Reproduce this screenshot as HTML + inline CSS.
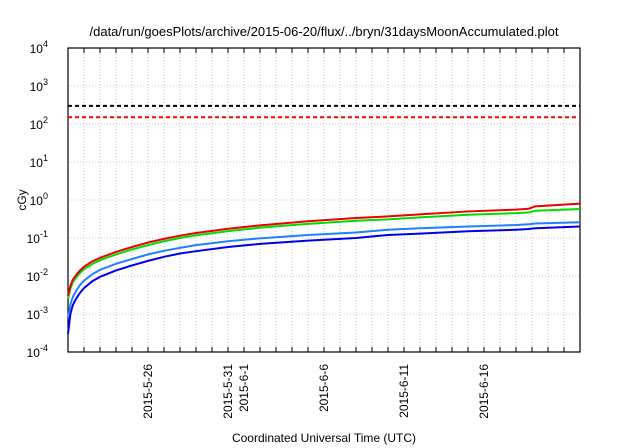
<!DOCTYPE html>
<html><head><meta charset="utf-8"><style>
body{margin:0;background:#fff;}
svg{display:block;font-family:"Liberation Sans",sans-serif;}
</style></head><body>
<svg id="chart" width="640" height="448">
<text x="324" y="36" font-size="13" text-anchor="middle" fill="#000">/data/run/goesPlots/archive/2015-06-20/flux/../bryn/31daysMoonAccumulated.plot</text>
<g id="grid"></g>
<g id="axes"></g>
<g id="series"></g>
<text x="26" y="200" font-size="12" text-anchor="middle" transform="rotate(-90 26 200)">cGy</text>
<text x="324" y="442" font-size="12" text-anchor="middle">Coordinated Universal Time (UTC)</text>
</svg>
<script>
const days=[0,0.15,0.3,0.5,0.75,1,1.5,2,3,4,5,6,7,8,10,12,15,18,20,22,25,28,28.8,29.2,32];
const redVals=[3e-3,5.5e-3,8e-3,1.05e-2,1.4e-2,1.75e-2,2.4e-2,3e-2,4.3e-2,5.8e-2,7.6e-2,9.5e-2,1.15e-1,1.35e-1,1.75e-1,2.15e-1,2.75e-1,3.35e-1,3.7e-1,4.2e-1,5e-1,5.6e-1,5.9e-1,6.8e-1,8e-1];
const greenVals=[2.5e-3,4.6e-3,6.8e-3,9e-3,1.2e-2,1.5e-2,2.05e-2,2.6e-2,3.7e-2,5e-2,6.5e-2,8.2e-2,1e-1,1.17e-1,1.52e-1,1.87e-1,2.35e-1,2.85e-1,3.1e-1,3.5e-1,4.1e-1,4.5e-1,4.7e-1,5.2e-1,5.8e-1];
const lblueVals=[8e-4,1.8e-3,2.8e-3,4e-3,5.8e-3,7.5e-3,1.1e-2,1.45e-2,2.1e-2,2.8e-2,3.7e-2,4.6e-2,5.5e-2,6.5e-2,8.2e-2,9.8e-2,1.2e-1,1.4e-1,1.65e-1,1.8e-1,2e-1,2.2e-1,2.3e-1,2.4e-1,2.6e-1];
const blueVals=[3e-4,1e-3,1.7e-3,2.5e-3,3.6e-3,4.8e-3,7.2e-3,9.5e-3,1.4e-2,1.9e-2,2.5e-2,3.2e-2,3.9e-2,4.5e-2,5.8e-2,7e-2,8.5e-2,1e-1,1.2e-1,1.3e-1,1.5e-1,1.65e-1,1.72e-1,1.8e-1,2e-1];
const refLines=[300,150];
const yTicks=[-4,-3,-2,-1,0,1,2,3,4];
const xTickDays=[5,10,11,16,21,26];
const xTickLabels=["2015-5-26","2015-5-31","2015-6-1","2015-6-6","2015-6-11","2015-6-16"];
const L=68,R=580,T=48,B=352,DAYS=32;
const X=d=>L+(R-L)*d/DAYS;
const Y=v=>B-(Math.log10(v)+4)*(B-T)/8;
const NS="http://www.w3.org/2000/svg";
function mk(p,t,a){const e=document.createElementNS(NS,t);for(const k in a)e.setAttribute(k,a[k]);p.appendChild(e);return e;}
const grid=document.getElementById('grid'),axes=document.getElementById('axes'),ser=document.getElementById('series');
for(let d=1;d<DAYS;d++){
 const l=mk(grid,'line',{x1:X(d),x2:X(d),y1:T,y2:B,stroke:'#bbb','stroke-width':0.8,'stroke-dasharray':'1,2'});
 
 const t=mk(axes,'line',{x1:X(d),x2:X(d),y1:B,y2:B-5,stroke:'#000'});
 
 const t2=mk(axes,'line',{x1:X(d),x2:X(d),y1:T,y2:T+5,stroke:'#000'});
 
}
yTicks.forEach(e=>{
 const y=Y(Math.pow(10,e));
 if(e>-4&&e<4){const l=mk(grid,'line',{x1:L,x2:R,y1:y,y2:y,stroke:'#bbb','stroke-width':0.8,'stroke-dasharray':'1,2'});
 }
 const t=mk(axes,'text',{x:48,y:y+5,'font-size':12,'text-anchor':'end'});
 
 t.textContent='10';
 const s=mk(t,'tspan',{dy:-6,'font-size':9});s.textContent=String(e);
});
xTickDays.forEach((d,i)=>{
 const x=X(d);
 const t=mk(axes,'text',{x:0,y:0,'font-size':12,'text-anchor':'end',transform:`translate(${x+4},${B+12}) rotate(-90)`});
 
 t.textContent=xTickLabels[i];
});
const fr=mk(axes,'rect',{x:L,y:T,width:R-L,height:B-T,fill:'none',stroke:'#000','stroke-width':1.2});

const refColors=['#000','#f00'];
refLines.forEach((v,i)=>{
 const l=mk(ser,'line',{x1:L,x2:R,y1:Y(v),y2:Y(v),stroke:refColors[i],'stroke-width':2,'stroke-dasharray':'4,3'});
 
});
[[blueVals,'#0000ee','blue-series'],[lblueVals,'#2080ff','light-blue-series'],[greenVals,'#00dd00','green-series'],[redVals,'#ee0000','red-series']].forEach(([vals,c,n])=>{
 const p=mk(ser,'polyline',{points:days.map((d,i)=>X(d)+','+Y(vals[i])).join(' '),fill:'none',stroke:c,'stroke-width':2,'stroke-linejoin':'round'});
 
});
</script>
</body></html>
